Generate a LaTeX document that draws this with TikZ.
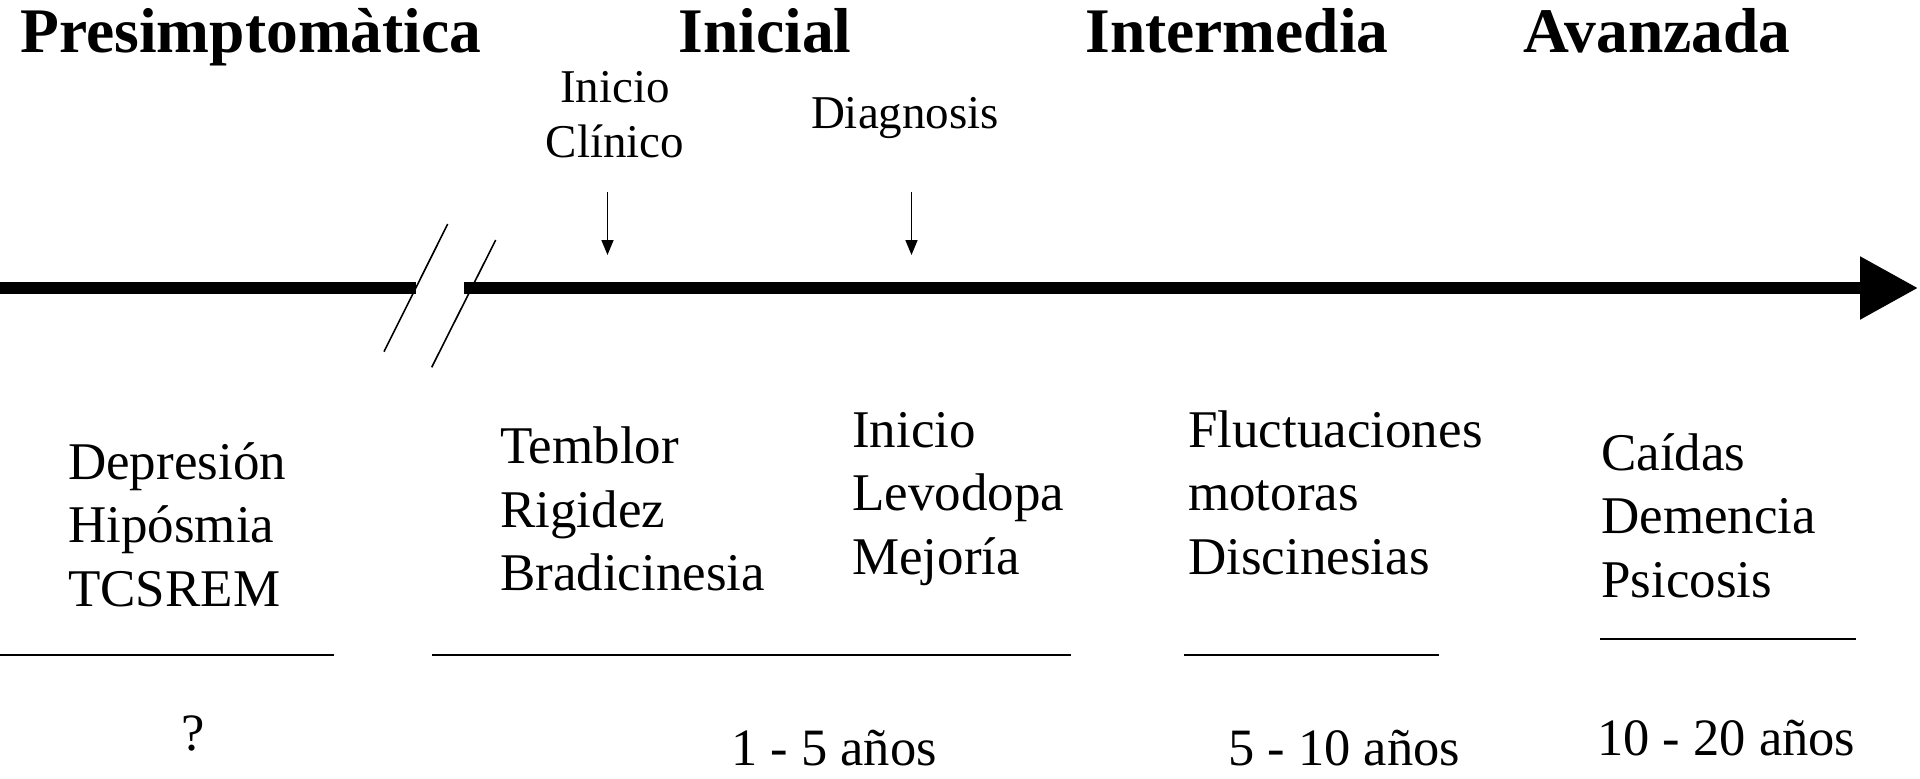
\documentclass[tikz,border=0pt]{standalone}
\usepackage{fontspec}
\setmainfont{Liberation Serif}
\usetikzlibrary{arrows.meta}
\begin{document}
\begin{tikzpicture}[x=1pt,y=-1pt,
  title/.style={font=\bfseries\fontsize{63.5}{70}\selectfont, inner sep=0pt, anchor=base},
  event/.style={font=\fontsize{47}{55}\selectfont, inner sep=0pt, align=center, anchor=base},
  block/.style={font=\fontsize{53}{63.5}\selectfont, inner sep=0pt, align=left, anchor=base west},
  period/.style={font=\fontsize{52.5}{63}\selectfont, inner sep=0pt},
  axis/.style={line width=12pt},
  brk/.style={line width=1.6pt},
  evarrow/.style={line width=1.6pt, -{Triangle[length=15pt,width=12pt]}},
  rulel/.style={line width=2.2pt}]
\useasboundingbox (0,0) rectangle (1920,779);

% stage titles
\node[title] (tPre) at (251,52) {Presimptomàtica};
\node[title] (tIni) at (765,52) {Inicial};
\node[title] (tInt) at (1237,52) {Intermedia};
\node[title] (tAva) at (1657,52) {Avanzada};

% events above the axis (base anchor = last line)
\node[event] (eIni) at (615,157) {Inicio\\Clínico};
\node[event] (eDia) at (905,128) {Diagnosis};

% axis
\coordinate (a0) at (0,288);
\coordinate (a1) at (416,288);
\coordinate (a2) at (464,288);
\coordinate (a3) at (1918,288);
\draw[axis] (a0) -- (a1);
\draw[axis, -{Triangle[length=58pt,width=60pt]}] (a2) -- (a3);

% break marks
\coordinate (s1a) at (447.7,224);
\coordinate (s1b) at (384,351.7);
\coordinate (s2a) at (495.7,240);
\coordinate (s2b) at (431.7,367.3);
\draw[brk] (s1a) -- (s1b);
\draw[brk] (s2a) -- (s2b);

% event arrows
\coordinate (m1a) at (607.5,192);
\coordinate (m1b) at (607.5,255);
\coordinate (m2a) at (911.5,192);
\coordinate (m2b) at (911.5,255);
\draw[evarrow] (m1a) -- (m1b);
\draw[evarrow] (m2a) -- (m2b);

% symptom blocks (base anchor = last line)
\node[block] (bPre) at (68,606) {Depresión\\Hipósmia\\TCSREM};
\node[block] (bIni1) at (500,590.5) {Temblor\\Rigidez\\Bradicinesia};
\node[block] (bIni2) at (852,574) {Inicio\\Levodopa\\Mejoría};
\node[block] (bInt) at (1188,574) {Fluctuaciones\\motoras\\Discinesias};
\node[block] (bAva) at (1601,597) {Caídas\\Demencia\\Psicosis};

% rules
\coordinate (r1a) at (0,655);
\coordinate (r1b) at (334,655);
\coordinate (r2a) at (432,655);
\coordinate (r2b) at (1071,655);
\coordinate (r3a) at (1184,655);
\coordinate (r3b) at (1439,655);
\coordinate (r4a) at (1600,639);
\coordinate (r4b) at (1856,639);
\draw[rulel] (r1a) -- (r1b);
\draw[rulel] (r2a) -- (r2b);
\draw[rulel] (r3a) -- (r3b);
\draw[rulel] (r4a) -- (r4b);

% durations
\node[period, anchor=base] (dPre) at (193,750) {?};
\node[period, anchor=base west] (dIni) at (731,765) {1 - 5 años};
\node[period, anchor=base west] (dInt) at (1228,765) {5 - 10 años};
\node[period, anchor=base west] (dAva) at (1597,755) {10 - 20 años};
\end{tikzpicture}
\end{document}
